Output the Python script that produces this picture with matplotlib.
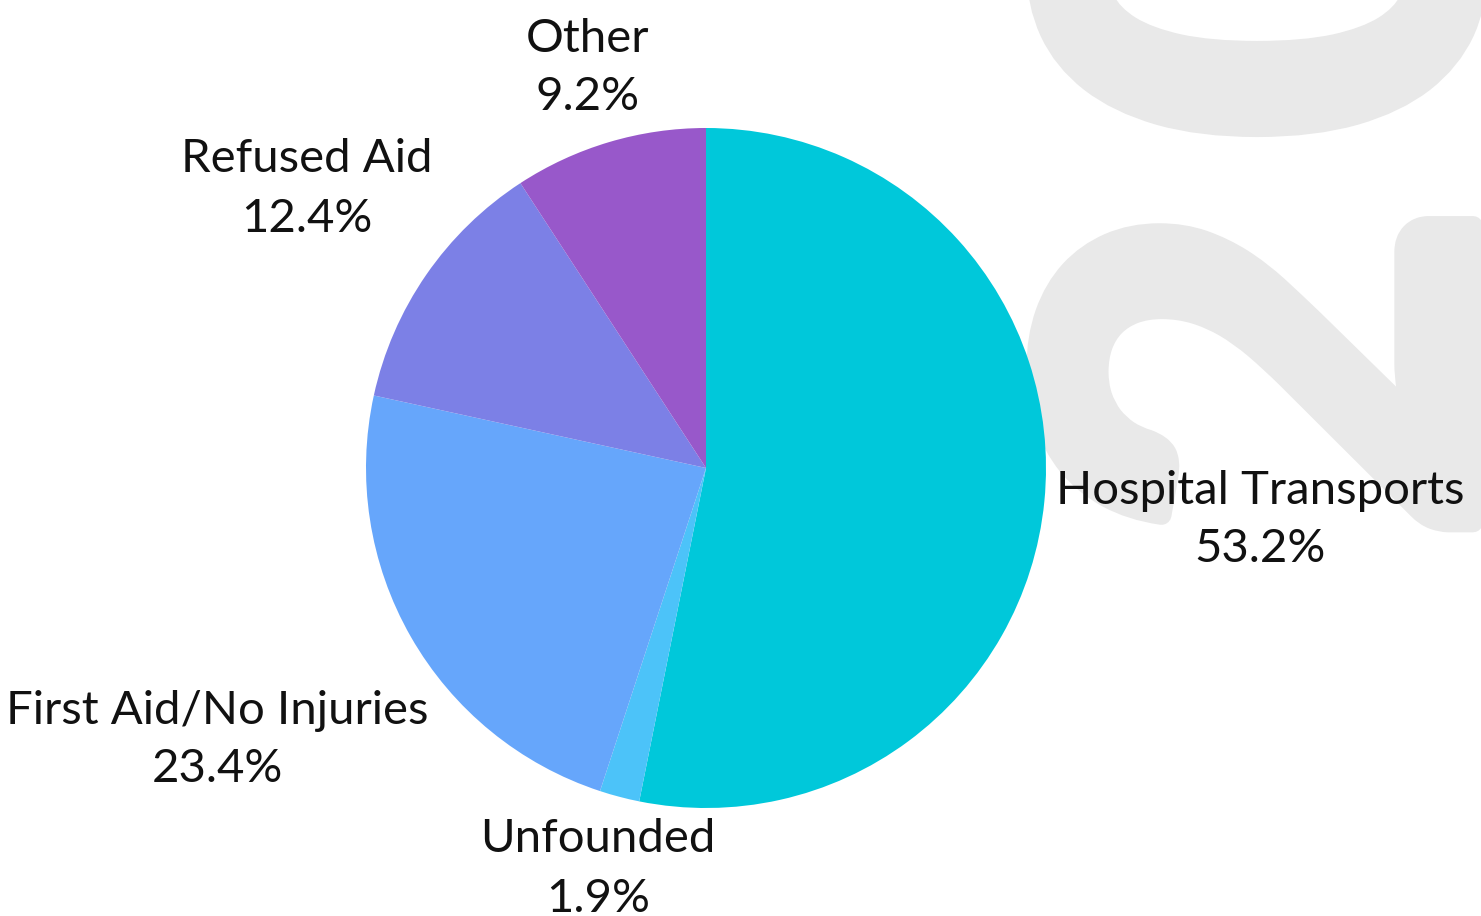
import matplotlib
matplotlib.use("Agg")
import matplotlib.pyplot as plt
from matplotlib import patheffects

categories = ["Hospital Transports", "Unfounded", "First Aid/No Injuries", "Refused Aid", "Other"]
values = [53.2, 1.9, 23.4, 12.4, 9.2]
colors = ["#00C8DA", "#4CC3F9", "#66A6FB", "#7C80E6", "#9858CA"]
# label anchor positions in image pixels (x, y from top)
label_pos = {
    "Hospital Transports": (1260, 520),
    "Unfounded": (598, 869),
    "First Aid/No Injuries": (217, 740),
    "Refused Aid": (307, 189),
    "Other": (588, 68),
}

W, H = 1481, 916
fig = plt.figure(figsize=(W / 100, H / 100), dpi=100)
ax = fig.add_axes([0, 0, 1, 1])
ax.set_xlim(0, W)
ax.set_ylim(0, H)
ax.set_aspect("equal")
ax.axis("off")

# background watermark (large grey year, rotated, partly off the page)
wm_color = "#E9E9E9"
wm_kw = dict(rotation=90, rotation_mode="anchor", ha="left", va="baseline",
             fontsize=430, family="Lato", fontweight="bold", color=wm_color,
             zorder=0,
             path_effects=[patheffects.withStroke(linewidth=14.4, foreground=wm_color)])
ax.text(1473, H - 545, "2", **wm_kw)
ax.text(1473, H - 142, "020", **wm_kw)

cx, cy, r = 706, H - 468, 340
ax.pie(values, colors=colors, startangle=90, counterclock=False,
       center=(cx, cy), radius=r, wedgeprops=dict(linewidth=0),
       frame=True)
ax.set_xlim(0, W)
ax.set_ylim(0, H)
ax.axis("off")

for cat, v in zip(categories, values):
    x, y = label_pos[cat]
    ax.text(x, H - y, f"{cat}\n{v:.1f}%", ha="center", va="center",
            fontsize=34, family="Lato", color="#111111",
            linespacing=1.5, zorder=5)

fig.savefig("out.png", dpi=100, facecolor="white")
